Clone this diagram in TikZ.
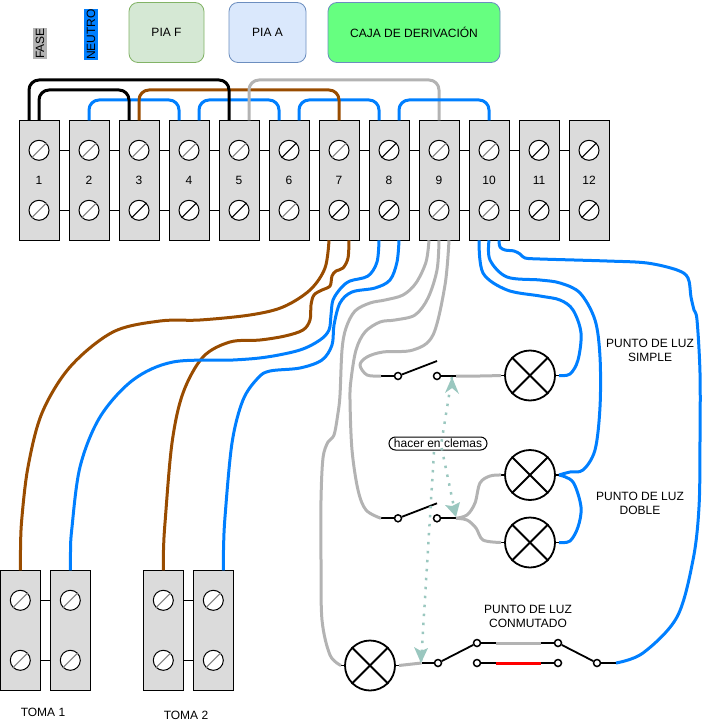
\documentclass[tikz,border=0pt]{standalone}
\usepackage{fontspec}
\setmainfont{Liberation Sans}
\usetikzlibrary{arrows.meta}
\definecolor{azul}{HTML}{007FFF}
\definecolor{marron}{HTML}{994C00}
\definecolor{gris}{HTML}{B3B3B3}
\definecolor{ranura}{HTML}{808080}
\definecolor{verdeflecha}{HTML}{9AC7BF}
\definecolor{verdepia}{HTML}{D5E8D4}
\definecolor{bordepia}{HTML}{82B366}
\definecolor{azulpia}{HTML}{DAE8FC}
\definecolor{bordeazul}{HTML}{6C8EBF}
\definecolor{verdecaja}{HTML}{66FF80}
\tikzset{
  clema/.style={draw, fill=black!14, minimum width=40, minimum height=120, inner sep=0, line width=1},
  tornillo/.style={draw, circle, fill=white, minimum size=20, inner sep=0, line width=1},
  caja/.style={draw, rounded corners=9, inner sep=0, line width=0.8},
  lampara/.style={draw, circle, minimum size=50, inner sep=0, line width=1.8},
  contacto/.style={draw, circle, fill=white, minimum size=7, inner sep=0, line width=1.5},
  cable/.style={line width=3, line join=round},
  puente/.style={cable, rounded corners=10},
  curva/.style={cable, smooth, tension=0.55},
  hilo/.style={line width=1.8},
  texto/.style={font=\fontsize{12}{14}\selectfont, align=center, inner sep=0},
  puntos/.style={line width=2.5, verdeflecha, dash pattern=on 2.5 off 6.5}
}
% clema: nombre, x, y, texto, color de ranura arriba y abajo
\newcommand{\clema}[6]{
  \node[clema] (#1) at (#2,#3) {};
  \node[texto] (#1t) at (#2,#3) {#4};
  \node[tornillo] (#1a) at (#2,#3-30) {};
  \node[tornillo] (#1b) at (#2,#3+30) {};
  \draw[#5, line width=1] (#1a.225) -- (#1a.45);
  \draw[#6, line width=1] (#1b.225) -- (#1b.45);
  \coordinate (#1tl) at (#2-10,#3-60);
  \coordinate (#1tc) at (#2,#3-60);
  \coordinate (#1tr) at (#2+10,#3-60);
  \coordinate (#1bl) at (#2-10,#3+60);
  \coordinate (#1bc) at (#2,#3+60);
  \coordinate (#1br) at (#2+10,#3+60);
}
\newcommand{\enlace}[2]{
  \draw (#1a -| #1.east) -- (#2a -| #2.west);
  \draw (#1b -| #1.east) -- (#2b -| #2.west);
}
\newcommand{\lampara}[3]{
  \node[lampara] (#1) at (#2,#3) {};
  \draw[hilo] (#1.45) -- (#1.225);
  \draw[hilo] (#1.135) -- (#1.315);
  \coordinate (#1i) at (#2-29,#3);
  \coordinate (#1d) at (#2+29,#3);
  \draw[hilo] (#1i) -- (#1.west);
  \draw[hilo] (#1d) -- (#1.east);
}
% interruptor: nombre, x, y
\newcommand{\interruptor}[3]{
  \coordinate (#1i) at (#2-17,#3);
  \coordinate (#1d) at (#2+58,#3);
  \coordinate (#1p) at (#2+39,#3-15);
  \node[contacto] (#1a) at (#2,#3) {};
  \node[contacto] (#1b) at (#2+39,#3) {};
  \draw[hilo] (#1i) -- (#1a);
  \draw[hilo] (#1a) -- (#1p);
  \draw[hilo] (#1b) -- (#1d);
}
\begin{document}
\begin{tikzpicture}[x=1pt, y=-1pt]
\useasboundingbox (0,0) rectangle (702,722);

% leyenda
\node[texto, rotate=90, fill=gris, minimum height=14, minimum width=31] (fase) at (40,43.5) {FASE};
\node[texto, rotate=90, fill=azul, minimum height=14, minimum width=51] (neutro) at (91,34.5) {NEUTRO};
\node[caja, texto, draw=bordepia, fill=verdepia, minimum width=75, minimum height=60] (piaf) at (166.5,32.5) {PIA F};
\node[caja, texto, fill=azulpia, draw=bordeazul, minimum width=77, minimum height=60] (piaa) at (267.5,32.5) {PIA A};
\node[caja, texto, fill=verdecaja, draw=bordeazul, minimum width=172, minimum height=60] (derivacion) at (414,32.5) {CAJA DE DERIVACIÓN};

% regleta
\foreach \n/\xc/\ca/\cb in {1/39/ranura/ranura, 2/89/ranura/ranura, 3/139/ranura/black, 4/189/ranura/black, 5/239/ranura/black, 6/289/black/ranura,
  7/339/ranura/black, 8/389/black/black, 9/439/ranura/ranura, 10/489/ranura/ranura, 11/539/black/black, 12/589/black/black} {
  \clema{c\n}{\xc}{180.3}{\n}{\ca}{\cb}
}
\foreach \a/\b in {1/2, 2/3, 3/4, 4/5, 5/6, 6/7, 7/8, 8/9, 9/10, 10/11, 11/12} {
  \enlace{c\a}{c\b}
}

% tomas
\clema{t1}{20.3}{630.3}{}{ranura}{ranura}
\clema{t2}{70.3}{630.3}{}{ranura}{ranura}
\clema{t3}{163.3}{630.3}{}{ranura}{ranura}
\clema{t4}{213.3}{630.3}{}{ranura}{ranura}
\enlace{t1}{t2}
\enlace{t3}{t4}
\node[texto] (toma1) at (43,712) {TOMA 1};
\node[texto] (toma2) at (186,715) {TOMA 2};

% lamparas e interruptores
\lampara{l1}{530}{375.5}
\lampara{l2}{530}{475}
\lampara{l3}{530}{542.5}
\lampara{l4}{370}{665.5}
\interruptor{s1}{398}{376}
\interruptor{s2}{398}{518.3}

% conmutada
\coordinate (m1i) at (421.5,663);
\coordinate (m2d) at (616,663);
\node[contacto] (m1) at (438,663) {};
\node[contacto] (m2) at (597,663) {};
\node[contacto] (ma1) at (477,643) {};
\node[contacto] (ma2) at (558,643) {};
\node[contacto] (mb1) at (477,663) {};
\node[contacto] (mb2) at (558,663) {};
\coordinate (ma3) at (496,643);
\coordinate (ma4) at (541,643);
\coordinate (mb3) at (496,663);
\coordinate (mb4) at (541,663);
\draw[hilo] (m1i) -- (m1);
\draw[hilo] (m1) -- (ma1);
\draw[hilo] (m2d) -- (m2);
\draw[hilo] (m2) -- (ma2);
\draw[hilo] (ma1) -- (ma3);
\draw[hilo] (ma4) -- (ma2);
\draw[hilo] (mb1) -- (mb3);
\draw[hilo] (mb4) -- (mb2);
\draw[cable, gris] (ma3) -- (ma4);
\draw[cable, red] (mb3) -- (mb4);

% puentes superiores
\draw[puente, azul] (c2tc) -- (89,100) -- (179,100) -- (c4tl);
\draw[puente, azul] (c4tr) -- (199,100) -- (279,100) -- (c6tl);
\draw[puente, azul] (c6tr) -- (299,100) -- (379,100) -- (c8tl);
\draw[puente, marron] (c3tc) -- (139,90) -- (339,90) -- (c7tc);
\draw[puente, gris] (c5tr) -- (249,80) -- (439,80) -- (c9tc);
\draw[puente, azul] (c8tr) -- (399,100) -- (489,100) -- (c10tc);
\draw[puente, black] (c1tl) -- (29,80) -- (229,80) -- (c5tl);
\draw[puente, black] (c1tc) -- (39,90) -- (129,90) -- (c3tl);

% cables a tomas
\draw[curva, marron] plot coordinates {(c7bl) (325,268) (310,290) (283,307) (250,315) (200,320) (160,321) (113,332) (70,367) (42,413) (28,467) (21.7,520) (20.5,550) (t1tc)};
\draw[curva, marron] plot coordinates {(c7br) (348,258) (343,268) (336,271) (332,276) (330,286) (322,290) (314,295) (311,305) (310,320) (303,330) (285,336) (260,340) (230,342) (203,357) (183,393) (172,443) (165,523) (163.5,550) (t3tc)};
\draw[curva, azul] plot coordinates {(c8bl) (377,262) (368,276) (350,281) (341,288) (333,300) (331,315) (329,330) (320,340) (300,350) (267,357) (233,360) (173,362) (133,380) (100,417) (80,467) (71.7,530) (70.5,552) (t2tc)};
\draw[curva, azul] plot coordinates {(c8br) (397,262) (390,280) (375,288) (352,292) (340,303) (334,325) (332,345) (322,360) (300,368) (270,371) (258,378) (243,400) (232,443) (225,517) (223.5,550) (t4tr)};

% cables grises
\draw[curva, gris] plot coordinates {(c9bl) (426,262) (416,283) (403,295) (385,300) (370,303) (355,311) (346,328) (342,350) (340,395) (338,413) (334,435) (328,442) (323,458) (321,500) (321,560) (322,620) (330,655) (l4i)};
\draw[curva, gris] plot coordinates {(c9bc) (437,270) (428,298) (415,315) (395,320) (380,322) (365,332) (356,350) (351,380) (350,400) (352,450) (358,490) (366,510) (s2i)};
\draw[curva, gris] plot coordinates {(c9br) (445,285) (433,335) (413,350) (383,352) (367,357) (360,365) (367,375) (s1i)};
\draw[curva, gris] plot coordinates {(s1d) (480,376) (l1i)};
\draw[curva, gris] plot coordinates {(s2d) (467,515) (475,503) (480,483) (490,476) (l2i)};
\draw[curva, gris] plot coordinates {(s2d) (467,520) (476,528) (483,540) (l3i)};
\draw[curva, gris] plot coordinates {(l4d) (m1i)};

% cables azules
\draw[curva, azul] plot coordinates {(c10bl) (483,273) (507,290) (540,296) (560,300) (573,310) (581,333) (578,360) (570,374) (l1d)};
\draw[curva, azul] plot coordinates {(c10bc) (490,260) (507,277) (540,280) (560,283) (580,293) (595,320) (600,357) (600,407) (595,450) (583,470) (570,472) (l2d)};
\draw[curva, azul] plot coordinates {(l2d) (573,482) (581,507) (578,527) (570,541) (l3d)};
\draw[curva, azul] plot coordinates {(c10br) (500,247) (505,250) (514,251) (520,254) (525,258) (540,259) (607,261) (647,263) (677,270) (688,278) (691,297) (694,310) (697,320) (700,373) (700,440) (699,507) (693,560) (677,617) (643,653) (m2d)};

% textos
\node[texto] (simple) at (650,350) {PUNTO DE LUZ\\SIMPLE};
\node[texto] (doble) at (640,503) {PUNTO DE LUZ\\DOBLE};
\node[texto] (conmutado) at (528,616) {PUNTO DE LUZ\\CONMUTADO};

% nota en clemas
\node[draw, fill=white, texto, line width=1, rounded corners=6.5, minimum width=98, minimum height=13] (nota) at (438,443.5) {hacer en clemas};
\coordinate (f1) at (452,377);
\coordinate (f2) at (456,517);
\coordinate (f3) at (421,663);
\coordinate (nota1) at (441,445);
\coordinate (nota2) at (434,452);
\draw[puntos] (f1) -- (nota1) -- (f2);
\draw[puntos] (nota2) -- (f3);
\fill[verdeflecha] (f1) -- (459,394) -- (452,388) -- (445,393) -- cycle;
\fill[verdeflecha] (f2) -- (445,505) -- (452,506) -- (460,502) -- cycle;
\fill[verdeflecha] (f3) -- (414,647) -- (421,651) -- (428,648) -- cycle;
\end{tikzpicture}
\end{document}
